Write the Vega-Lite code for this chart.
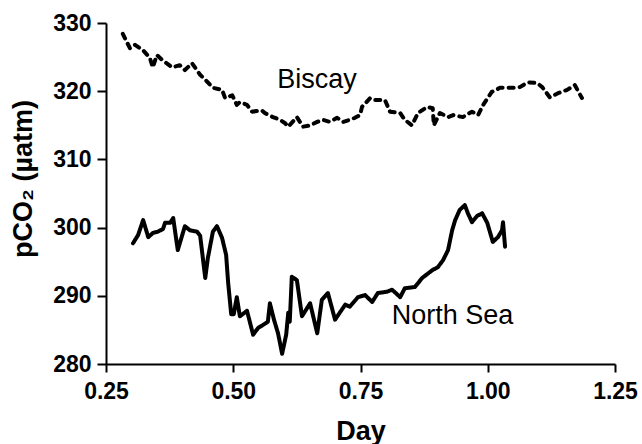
{
  "$schema": "https://vega.github.io/schema/vega-lite/v6.json",
  "width": 509,
  "height": 341,
  "autosize": "none",
  "padding": {"left": 106, "top": 23, "right": 27, "bottom": 80},
  "background": "white",
  "config": {
    "view": {"stroke": null},
    "font": "Liberation Sans",
    "axis": {
      "domainColor": "black",
      "domainWidth": 2,
      "tickColor": "black",
      "tickWidth": 2,
      "grid": false,
      "labelFont": "Liberation Sans",
      "labelFontWeight": "bold",
      "labelFontSize": 23,
      "labelColor": "black",
      "titleFont": "Liberation Sans",
      "titleFontWeight": "bold",
      "titleFontSize": 27,
      "titleColor": "black"
    }
  },
  "datasets": {
    "series": [
      {"series": "Biscay", "day": 0.283, "pco2": 328.4},
      {"series": "Biscay", "day": 0.297, "pco2": 326.3},
      {"series": "Biscay", "day": 0.307, "pco2": 326.8},
      {"series": "Biscay", "day": 0.323, "pco2": 326.0},
      {"series": "Biscay", "day": 0.336, "pco2": 324.9},
      {"series": "Biscay", "day": 0.342, "pco2": 323.5},
      {"series": "Biscay", "day": 0.350, "pco2": 325.3},
      {"series": "Biscay", "day": 0.360, "pco2": 324.6},
      {"series": "Biscay", "day": 0.380, "pco2": 323.5},
      {"series": "Biscay", "day": 0.395, "pco2": 323.8},
      {"series": "Biscay", "day": 0.405, "pco2": 323.1},
      {"series": "Biscay", "day": 0.419, "pco2": 324.1},
      {"series": "Biscay", "day": 0.435, "pco2": 322.4},
      {"series": "Biscay", "day": 0.445, "pco2": 321.7},
      {"series": "Biscay", "day": 0.460, "pco2": 320.5},
      {"series": "Biscay", "day": 0.478, "pco2": 320.2},
      {"series": "Biscay", "day": 0.484, "pco2": 319.0},
      {"series": "Biscay", "day": 0.498, "pco2": 319.4},
      {"series": "Biscay", "day": 0.507, "pco2": 318.0},
      {"series": "Biscay", "day": 0.513, "pco2": 318.4},
      {"series": "Biscay", "day": 0.527, "pco2": 318.0},
      {"series": "Biscay", "day": 0.537, "pco2": 317.0},
      {"series": "Biscay", "day": 0.556, "pco2": 317.2},
      {"series": "Biscay", "day": 0.562, "pco2": 316.8},
      {"series": "Biscay", "day": 0.578, "pco2": 316.2},
      {"series": "Biscay", "day": 0.592, "pco2": 315.8},
      {"series": "Biscay", "day": 0.602, "pco2": 315.3},
      {"series": "Biscay", "day": 0.608, "pco2": 314.8},
      {"series": "Biscay", "day": 0.625, "pco2": 316.2},
      {"series": "Biscay", "day": 0.631, "pco2": 315.5},
      {"series": "Biscay", "day": 0.637, "pco2": 314.8},
      {"series": "Biscay", "day": 0.651, "pco2": 315.0},
      {"series": "Biscay", "day": 0.665, "pco2": 315.5},
      {"series": "Biscay", "day": 0.676, "pco2": 315.8},
      {"series": "Biscay", "day": 0.690, "pco2": 315.5},
      {"series": "Biscay", "day": 0.704, "pco2": 316.1},
      {"series": "Biscay", "day": 0.716, "pco2": 315.5},
      {"series": "Biscay", "day": 0.729, "pco2": 315.8},
      {"series": "Biscay", "day": 0.739, "pco2": 316.1},
      {"series": "Biscay", "day": 0.749, "pco2": 316.5},
      {"series": "Biscay", "day": 0.753, "pco2": 317.7},
      {"series": "Biscay", "day": 0.769, "pco2": 319.0},
      {"series": "Biscay", "day": 0.778, "pco2": 318.7},
      {"series": "Biscay", "day": 0.798, "pco2": 318.7},
      {"series": "Biscay", "day": 0.808, "pco2": 317.0},
      {"series": "Biscay", "day": 0.828, "pco2": 316.8},
      {"series": "Biscay", "day": 0.837, "pco2": 315.8},
      {"series": "Biscay", "day": 0.851, "pco2": 315.0},
      {"series": "Biscay", "day": 0.863, "pco2": 316.8},
      {"series": "Biscay", "day": 0.881, "pco2": 317.7},
      {"series": "Biscay", "day": 0.892, "pco2": 317.5},
      {"series": "Biscay", "day": 0.894, "pco2": 315.0},
      {"series": "Biscay", "day": 0.906, "pco2": 316.8},
      {"series": "Biscay", "day": 0.922, "pco2": 316.2},
      {"series": "Biscay", "day": 0.932, "pco2": 316.5},
      {"series": "Biscay", "day": 0.951, "pco2": 316.2},
      {"series": "Biscay", "day": 0.969, "pco2": 317.0},
      {"series": "Biscay", "day": 0.981, "pco2": 316.5},
      {"series": "Biscay", "day": 0.991, "pco2": 318.0},
      {"series": "Biscay", "day": 1.008, "pco2": 319.9},
      {"series": "Biscay", "day": 1.024, "pco2": 320.5},
      {"series": "Biscay", "day": 1.040, "pco2": 320.5},
      {"series": "Biscay", "day": 1.050, "pco2": 320.5},
      {"series": "Biscay", "day": 1.063, "pco2": 320.6},
      {"series": "Biscay", "day": 1.079, "pco2": 321.3},
      {"series": "Biscay", "day": 1.097, "pco2": 321.2},
      {"series": "Biscay", "day": 1.107, "pco2": 320.6},
      {"series": "Biscay", "day": 1.122, "pco2": 319.1},
      {"series": "Biscay", "day": 1.138, "pco2": 319.7},
      {"series": "Biscay", "day": 1.156, "pco2": 320.2},
      {"series": "Biscay", "day": 1.171, "pco2": 320.9},
      {"series": "Biscay", "day": 1.185, "pco2": 319.0},
      {"series": "North Sea", "day": 0.303, "pco2": 297.7},
      {"series": "North Sea", "day": 0.313, "pco2": 298.9},
      {"series": "North Sea", "day": 0.323, "pco2": 301.1},
      {"series": "North Sea", "day": 0.333, "pco2": 298.6},
      {"series": "North Sea", "day": 0.342, "pco2": 299.2},
      {"series": "North Sea", "day": 0.352, "pco2": 299.4},
      {"series": "North Sea", "day": 0.362, "pco2": 299.8},
      {"series": "North Sea", "day": 0.366, "pco2": 300.7},
      {"series": "North Sea", "day": 0.376, "pco2": 300.7},
      {"series": "North Sea", "day": 0.382, "pco2": 301.4},
      {"series": "North Sea", "day": 0.391, "pco2": 296.7},
      {"series": "North Sea", "day": 0.405, "pco2": 300.2},
      {"series": "North Sea", "day": 0.415, "pco2": 299.6},
      {"series": "North Sea", "day": 0.429, "pco2": 299.4},
      {"series": "North Sea", "day": 0.435, "pco2": 298.8},
      {"series": "North Sea", "day": 0.445, "pco2": 292.6},
      {"series": "North Sea", "day": 0.450, "pco2": 295.5},
      {"series": "North Sea", "day": 0.460, "pco2": 299.4},
      {"series": "North Sea", "day": 0.468, "pco2": 300.2},
      {"series": "North Sea", "day": 0.478, "pco2": 298.5},
      {"series": "North Sea", "day": 0.486, "pco2": 296.0},
      {"series": "North Sea", "day": 0.490, "pco2": 291.9},
      {"series": "North Sea", "day": 0.496, "pco2": 287.3},
      {"series": "North Sea", "day": 0.501, "pco2": 287.3},
      {"series": "North Sea", "day": 0.507, "pco2": 289.8},
      {"series": "North Sea", "day": 0.513, "pco2": 287.0},
      {"series": "North Sea", "day": 0.527, "pco2": 287.8},
      {"series": "North Sea", "day": 0.539, "pco2": 284.3},
      {"series": "North Sea", "day": 0.549, "pco2": 285.3},
      {"series": "North Sea", "day": 0.558, "pco2": 285.7},
      {"series": "North Sea", "day": 0.568, "pco2": 286.2},
      {"series": "North Sea", "day": 0.572, "pco2": 288.9},
      {"series": "North Sea", "day": 0.580, "pco2": 286.5},
      {"series": "North Sea", "day": 0.588, "pco2": 284.5},
      {"series": "North Sea", "day": 0.596, "pco2": 281.5},
      {"series": "North Sea", "day": 0.604, "pco2": 284.3},
      {"series": "North Sea", "day": 0.608, "pco2": 287.5},
      {"series": "North Sea", "day": 0.611, "pco2": 286.2},
      {"series": "North Sea", "day": 0.615, "pco2": 292.8},
      {"series": "North Sea", "day": 0.625, "pco2": 292.3},
      {"series": "North Sea", "day": 0.635, "pco2": 287.0},
      {"series": "North Sea", "day": 0.651, "pco2": 288.9},
      {"series": "North Sea", "day": 0.665, "pco2": 284.5},
      {"series": "North Sea", "day": 0.674, "pco2": 289.4},
      {"series": "North Sea", "day": 0.686, "pco2": 290.4},
      {"series": "North Sea", "day": 0.700, "pco2": 286.5},
      {"series": "North Sea", "day": 0.720, "pco2": 288.7},
      {"series": "North Sea", "day": 0.729, "pco2": 288.4},
      {"series": "North Sea", "day": 0.745, "pco2": 289.8},
      {"series": "North Sea", "day": 0.759, "pco2": 290.1},
      {"series": "North Sea", "day": 0.773, "pco2": 289.1},
      {"series": "North Sea", "day": 0.784, "pco2": 290.4},
      {"series": "North Sea", "day": 0.802, "pco2": 290.6},
      {"series": "North Sea", "day": 0.812, "pco2": 290.9},
      {"series": "North Sea", "day": 0.828, "pco2": 289.8},
      {"series": "North Sea", "day": 0.837, "pco2": 291.1},
      {"series": "North Sea", "day": 0.857, "pco2": 291.3},
      {"series": "North Sea", "day": 0.871, "pco2": 292.6},
      {"series": "North Sea", "day": 0.883, "pco2": 293.3},
      {"series": "North Sea", "day": 0.892, "pco2": 293.8},
      {"series": "North Sea", "day": 0.902, "pco2": 294.2},
      {"series": "North Sea", "day": 0.912, "pco2": 295.2},
      {"series": "North Sea", "day": 0.922, "pco2": 296.7},
      {"series": "North Sea", "day": 0.930, "pco2": 299.6},
      {"series": "North Sea", "day": 0.936, "pco2": 301.1},
      {"series": "North Sea", "day": 0.945, "pco2": 302.6},
      {"series": "North Sea", "day": 0.955, "pco2": 303.3},
      {"series": "North Sea", "day": 0.961, "pco2": 302.1},
      {"series": "North Sea", "day": 0.969, "pco2": 300.8},
      {"series": "North Sea", "day": 0.979, "pco2": 301.7},
      {"series": "North Sea", "day": 0.989, "pco2": 302.1},
      {"series": "North Sea", "day": 0.999, "pco2": 300.7},
      {"series": "North Sea", "day": 1.010, "pco2": 297.9},
      {"series": "North Sea", "day": 1.020, "pco2": 298.6},
      {"series": "North Sea", "day": 1.028, "pco2": 299.6},
      {"series": "North Sea", "day": 1.030, "pco2": 300.8},
      {"series": "North Sea", "day": 1.034, "pco2": 297.2}
    ],
    "labels": [
      {"label": "Biscay", "day": 0.6645, "pco2": 320.5},
      {"label": "North Sea", "day": 0.9307, "pco2": 285.9}
    ]
  },
  "layer": [
    {
      "data": {"name": "series"},
      "mark": {"type": "line", "color": "black", "strokeWidth": 4, "strokeCap": "round", "strokeJoin": "round", "clip": true},
      "encoding": {
        "x": {
          "field": "day", "type": "quantitative",
          "scale": {"domain": [0.25, 1.25], "nice": false, "zero": false},
          "axis": {
            "title": "Day",
            "values": [0.25, 0.5, 0.75, 1.0, 1.25],
            "format": ".2f",
            "tickSize": 8,
            "labelPadding": 26,
            "labelBaseline": "alphabetic",
            "labelFlush": false,
            "titleX": 254.5,
            "titleY": 75,
            "titleBaseline": "alphabetic",
            "titleAlign": "center"
          }
        },
        "y": {
          "field": "pco2", "type": "quantitative",
          "scale": {"domain": [280, 330], "nice": false, "zero": false},
          "axis": {
            "title": "pCO₂ (µatm)",
            "values": [280, 290, 300, 310, 320, 330],
            "tickSize": 9,
            "labelPadding": 6,
            "labelFlush": false,
            "titleAngle": -90,
            "titleX": -75,
            "titleY": 155.5,
            "titleBaseline": "alphabetic",
            "titleAlign": "center"
          }
        },
        "detail": {"field": "series"},
        "strokeDash": {
          "field": "series", "type": "nominal",
          "scale": {"domain": ["Biscay", "North Sea"], "range": [[5, 6], [1, 0]]},
          "legend": null
        }
      }
    },
    {
      "data": {"name": "labels"},
      "mark": {"type": "text", "font": "Liberation Sans", "fontSize": 27, "color": "black", "align": "center", "baseline": "alphabetic"},
      "encoding": {
        "x": {"field": "day", "type": "quantitative"},
        "y": {"field": "pco2", "type": "quantitative"},
        "text": {"field": "label"}
      }
    }
  ]
}
